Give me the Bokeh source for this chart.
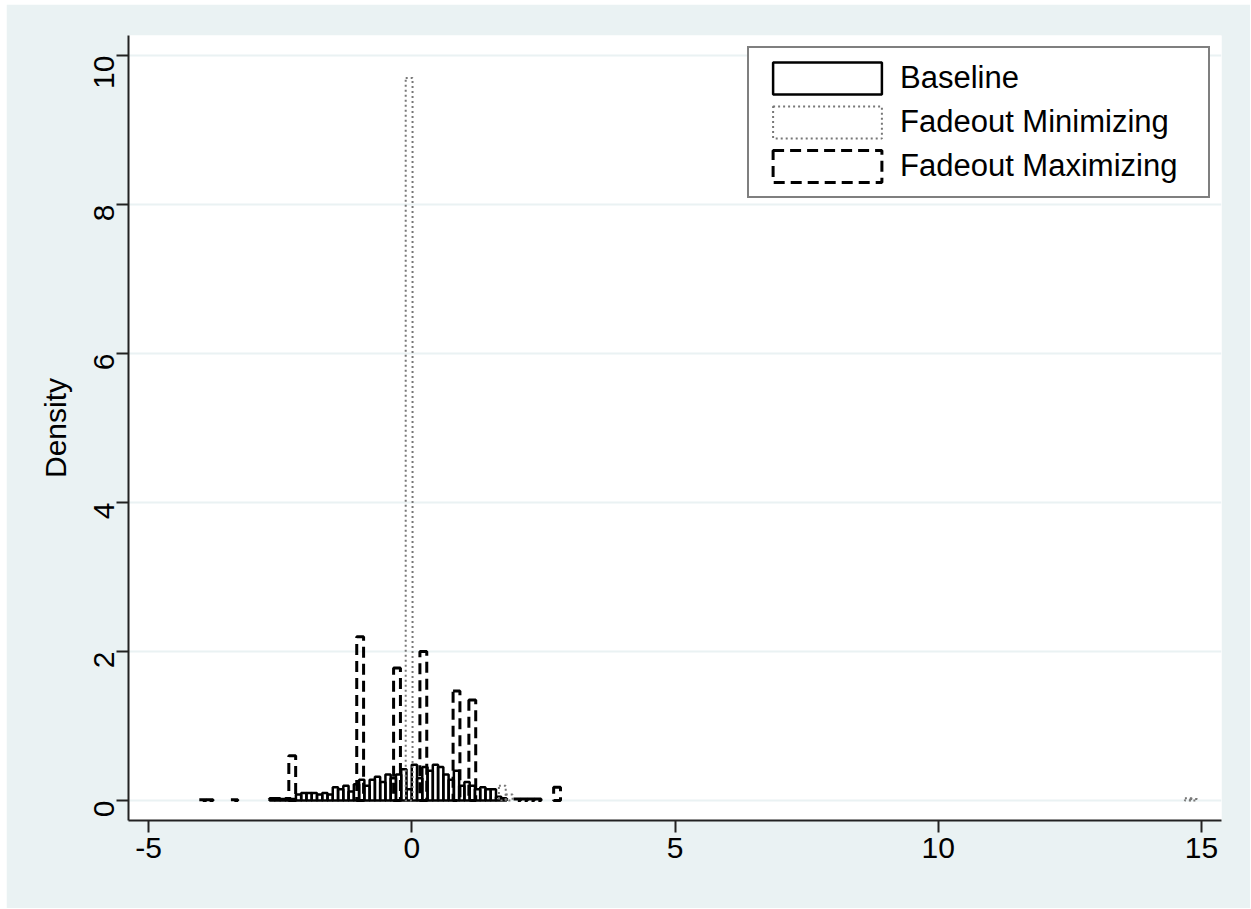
from bokeh.plotting import figure
from bokeh.models import FixedTicker, ColumnDataSource
from bokeh.embed import file_html
from bokeh.resources import INLINE

# ---- data ----
baseline_start = -2.7
baseline_binwidth = 0.1
baseline_heights = [0.03, 0.03, 0.02, 0.03, 0.02, 0.08, 0.10, 0.10, 0.10, 0.08,
                    0.10, 0.08, 0.18, 0.15, 0.20, 0.12, 0.22, 0.28, 0.20, 0.28,
                    0.32, 0.25, 0.35, 0.30, 0.35, 0.42, 0.15, 0.48, 0.30, 0.45,
                    0.40, 0.48, 0.45, 0.35, 0.28, 0.40, 0.20, 0.25, 0.20, 0.15,
                    0.18, 0.15, 0.15, 0.05, 0.03]

min_binwidth = 0.13
min_centers = [-0.05, 1.72, 1.85, 14.75, 14.85]
min_heights = [9.70, 0.20, 0.08, 0.03, 0.02]

max_binwidth = 0.13
max_centers = [-3.97, -3.84, -3.37, -2.27, -0.98, -0.28, 0.22, 0.85, 1.15,
               2.00, 2.13, 2.26, 2.39, 2.76]
max_heights = [0.01, 0.01, 0.01, 0.60, 2.20, 1.78, 2.00, 1.47, 1.35,
               0.02, 0.02, 0.02, 0.02, 0.18]

x_ticks = [-5, 0, 5, 10, 15]
y_ticks = [0, 2, 4, 6, 8, 10]
y_title = "Density"
legend_labels = ["Baseline", "Fadeout Minimizing", "Fadeout Maximizing"]

# ---- build sources ----
b_left = [baseline_start + i * baseline_binwidth for i in range(len(baseline_heights))]
b_src = ColumnDataSource(dict(left=b_left,
                              right=[l + baseline_binwidth for l in b_left],
                              top=baseline_heights,
                              bottom=[0] * len(baseline_heights)))
mn_src = ColumnDataSource(dict(left=[c - min_binwidth / 2 for c in min_centers],
                               right=[c + min_binwidth / 2 for c in min_centers],
                               top=min_heights, bottom=[0] * len(min_heights)))
mx_src = ColumnDataSource(dict(left=[c - max_binwidth / 2 for c in max_centers],
                               right=[c + max_binwidth / 2 for c in max_centers],
                               top=max_heights, bottom=[0] * len(max_heights)))

BG = "#eaf2f3"
FONT = "Liberation Sans"

p = figure(width=1244, height=904, output_backend="svg", toolbar_location=None,
           x_range=(-5.38, 15.38), y_range=(-0.268, 10.27),
           min_border_left=122, min_border_right=29, min_border_top=31, min_border_bottom=88)
p.margin = (4, 0, 0, 6)
p.background_fill_color = "white"
p.border_fill_color = BG
p.outline_line_color = None

p.quad(left="left", right="right", top="top", bottom="bottom", source=b_src,
       fill_color=None, line_color="black", line_width=2.5, legend_label=legend_labels[0])
p.quad(left="left", right="right", top="top", bottom="bottom", source=mn_src,
       fill_color=None, line_color="#777777", line_width=2, line_dash="2 3",
       legend_label=legend_labels[1])
p.quad(left="left", right="right", top="top", bottom="bottom", source=mx_src,
       fill_color=None, line_color="black", line_width=3, line_dash="11 6",
       legend_label=legend_labels[2])

# axes
for ax in (p.xaxis[0], p.yaxis[0]):
    ax.axis_line_color = "#222222"
    ax.axis_line_width = 2
    ax.major_tick_line_color = "#222222"
    ax.major_tick_line_width = 2
    ax.major_tick_out = 12
    ax.major_tick_in = 0
    ax.minor_tick_line_color = None
    ax.major_label_text_font = FONT
    ax.major_label_text_font_size = "30px"
    ax.major_label_text_color = "black"

p.xaxis.ticker = FixedTicker(ticks=x_ticks)
p.yaxis.ticker = FixedTicker(ticks=y_ticks)
p.xaxis.major_label_overrides = {t: str(t) for t in x_ticks}
p.yaxis.major_label_overrides = {t: str(t) for t in y_ticks}
p.xaxis.major_label_standoff = 5
p.yaxis.major_label_standoff = 12
p.yaxis.major_label_orientation = 1.5708
p.yaxis.axis_label = y_title
p.yaxis.axis_label_text_font = FONT
p.yaxis.axis_label_text_font_size = "30px"
p.yaxis.axis_label_text_font_style = "normal"
p.yaxis.axis_label_text_color = "black"
p.yaxis.axis_label_standoff = 10

p.xgrid.grid_line_color = None
p.ygrid.grid_line_color = BG
p.ygrid.grid_line_width = 2

# legend
lg = p.legend[0]
lg.location = "top_right"
lg.margin = 11
lg.padding = 10
lg.spacing = 4
lg.glyph_width = 136
lg.glyph_height = 40
lg.label_standoff = 5
lg.label_width = 298
lg.label_text_font = FONT
lg.label_text_font_size = "31px"
lg.label_text_color = "black"
lg.border_line_color = "black"
lg.border_line_width = 2
lg.background_fill_color = "white"
lg.background_fill_alpha = 1

open("out.html", "w").write(file_html(p, INLINE))
